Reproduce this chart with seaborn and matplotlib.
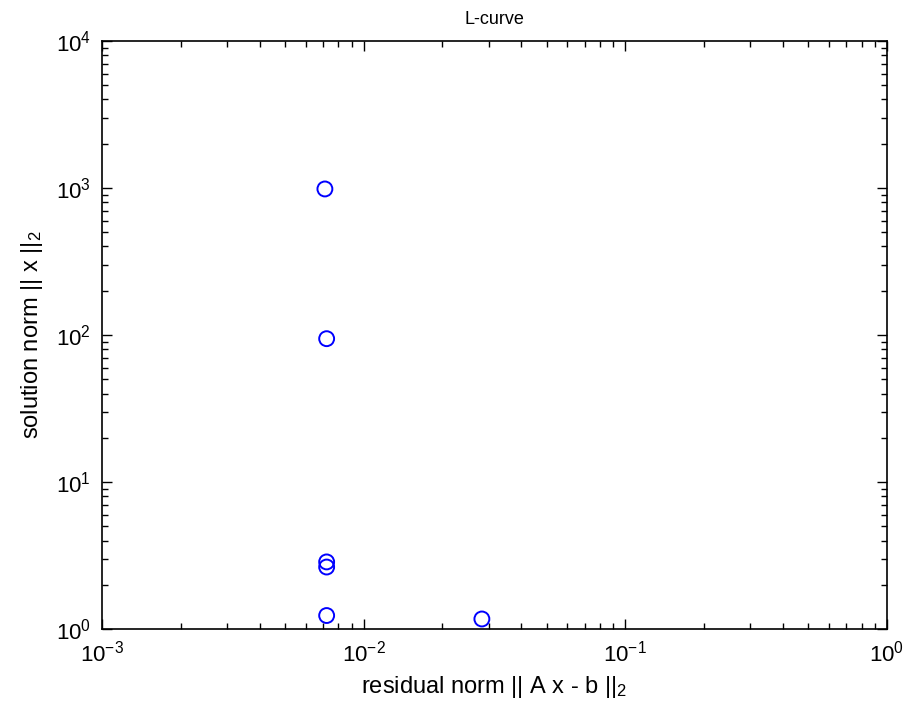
import matplotlib
matplotlib.use("Agg")
import matplotlib.pyplot as plt
import matplotlib.ticker as mticker
import seaborn as sns
import pandas as pd

# data
residual_norm = [0.00711, 0.00722, 0.00722, 0.00722, 0.00722, 0.0283]
solution_norm = [985.0, 94.4, 2.86, 2.64, 1.235, 1.17]

title = "L-curve"
xlabel = "residual norm || A x - b ||$_2$"
ylabel = "solution norm || x ||$_2$"

sns.set_theme(style="white")
plt.rcParams["font.family"] = ["Liberation Sans", "DejaVu Sans"]
plt.rcParams["mathtext.fontset"] = "custom"
plt.rcParams["mathtext.rm"] = "Liberation Sans"
plt.rcParams["mathtext.it"] = "Liberation Sans"
plt.rcParams["mathtext.default"] = "regular"
plt.rcParams["axes.unicode_minus"] = False
plt.rcParams["text.color"] = "black"
plt.rcParams["axes.labelcolor"] = "black"
plt.rcParams["xtick.color"] = "black"
plt.rcParams["ytick.color"] = "black"

df = pd.DataFrame({"res": residual_norm, "sol": solution_norm})

fig = plt.figure(figsize=(9.09, 7.13), dpi=100)
ax = fig.add_axes([0.1122, 0.1178, 0.8636, 0.8247])

sns.scatterplot(data=df, x="res", y="sol", ax=ax, marker="o", s=115,
                facecolor="none", edgecolor="#0000ff", linewidth=1.4, zorder=3)

ax.set_xscale("log")
ax.set_yscale("log")
ax.set_xlim(1e-3, 1e0)
ax.set_ylim(1e0, 1e4)

ax.xaxis.set_major_locator(mticker.LogLocator(base=10, numticks=10))
ax.yaxis.set_major_locator(mticker.LogLocator(base=10, numticks=10))
ax.xaxis.set_minor_locator(mticker.LogLocator(base=10, subs=range(2, 10), numticks=20))
ax.yaxis.set_minor_locator(mticker.LogLocator(base=10, subs=range(2, 10), numticks=20))
ax.xaxis.set_minor_formatter(mticker.NullFormatter())
ax.yaxis.set_minor_formatter(mticker.NullFormatter())

ax.tick_params(which="both", direction="in", top=True, right=True,
               bottom=True, left=True, color="black", width=1.0)
ax.tick_params(which="major", length=7, labelsize=16, pad=8, labelcolor="black")
ax.tick_params(which="minor", length=4)

for sp in ax.spines.values():
    sp.set_visible(True)
    sp.set_color("black")
    sp.set_linewidth(1.2)

ax.set_title(title, fontsize=13, pad=12, color="black")
ax.set_xlabel(xlabel, fontsize=17, labelpad=6, color="black")
ax.set_ylabel(ylabel, fontsize=17, labelpad=8, color="black")
ax.grid(False)

fig.savefig("out.png", dpi=100, facecolor="white")
